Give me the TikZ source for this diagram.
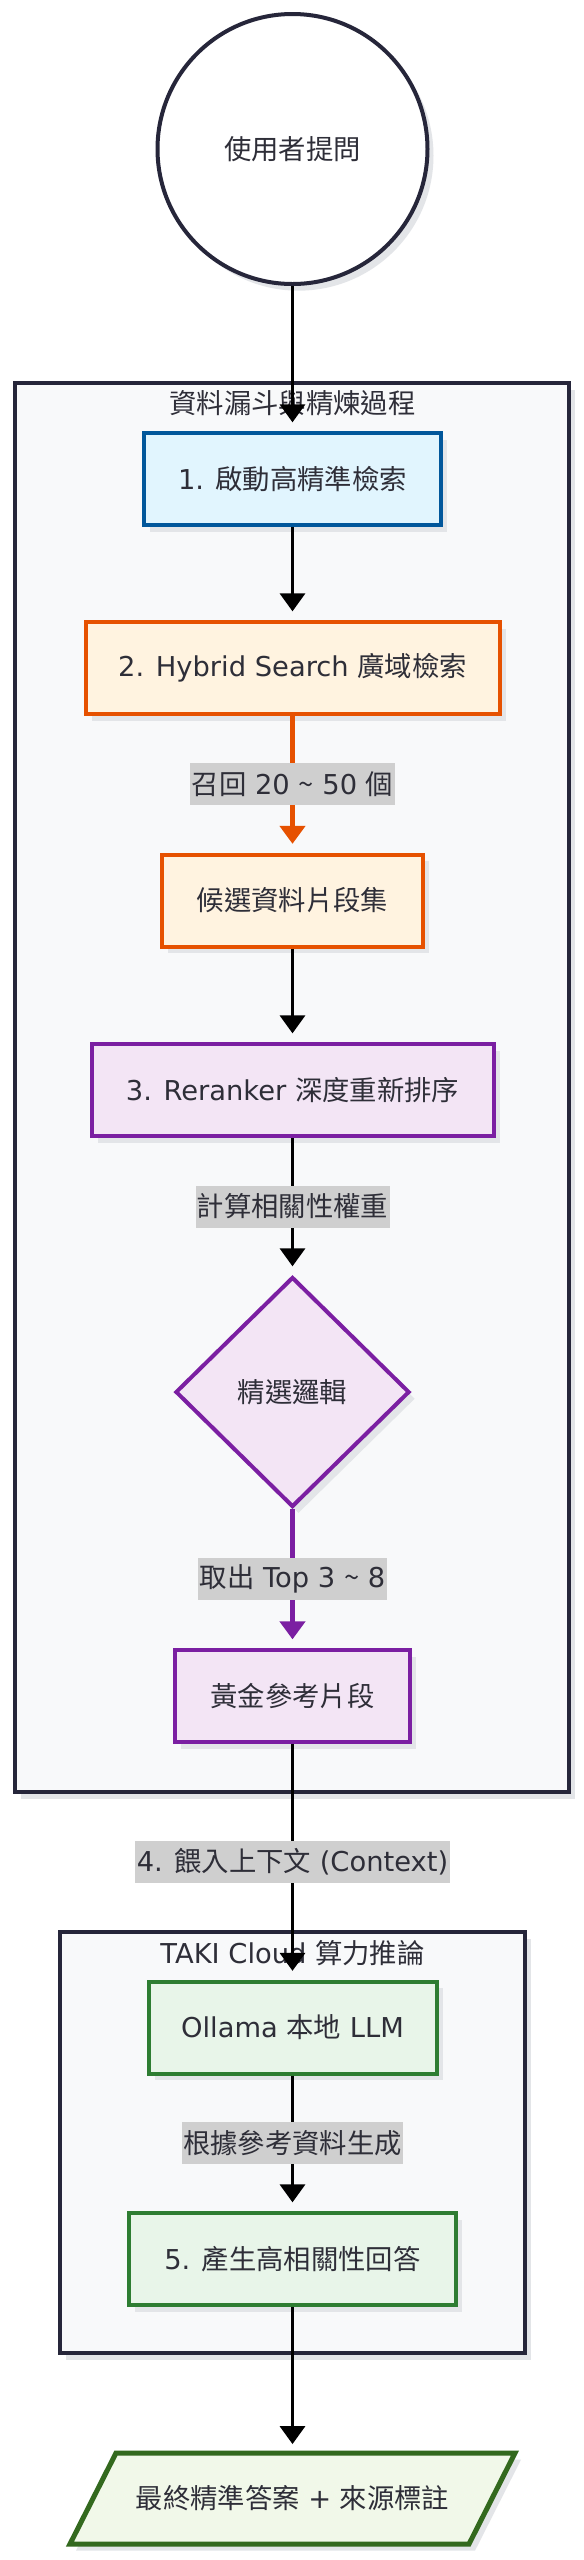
\documentclass[tikz,border=0pt]{standalone}
\usepackage{fontspec}
\setmainfont{DejaVu Sans}
\newfontfamily\cjk{Noto Sans CJK TC}
\usetikzlibrary{shapes.geometric,arrows.meta,shadows}
\definecolor{txt}{HTML}{2E2E38}
\definecolor{navy}{HTML}{26263A}
\definecolor{clusterfill}{HTML}{F8F9FA}
\definecolor{blueline}{HTML}{01579B}
\definecolor{bluefill}{HTML}{E1F5FE}
\definecolor{orangeline}{HTML}{E65100}
\definecolor{orangefill}{HTML}{FFF3E0}
\definecolor{purpleline}{HTML}{7B1FA2}
\definecolor{purplefill}{HTML}{F3E5F5}
\definecolor{greenline}{HTML}{2E7D32}
\definecolor{greenfill}{HTML}{E8F5E9}
\definecolor{outline}{HTML}{33691E}
\definecolor{outfill}{HTML}{F1F8E9}
\definecolor{lblfill}{HTML}{CFCFCF}
\definecolor{shadowgray}{HTML}{E3E5E8}
\begin{document}
\begin{tikzpicture}[x=0.75pt,y=-0.75pt,
  every node/.style={font=\fontsize{20.5}{24}\selectfont, text=txt},
  dshadow/.style={drop shadow={shadow xshift=4.5pt,shadow yshift=-5pt,fill=shadowgray,opacity=1}},
  cluster/.style={rectangle, draw=navy, fill=clusterfill, line width=2.6pt, inner sep=0pt, dshadow},
  box/.style={rectangle, line width=3pt, inner sep=0pt, minimum height=69pt, dshadow},
  bluebox/.style={box, draw=blueline, fill=bluefill},
  orangebox/.style={box, draw=orangeline, fill=orangefill},
  purplebox/.style={box, draw=purpleline, fill=purplefill},
  greenbox/.style={box, draw=greenline, fill=greenfill},
  link/.style={draw=black, line width=2.6pt, -{Triangle[length=13.5pt,width=18.75pt]}, shorten >=6.5pt},
  boldlink/.style={link, line width=3.75pt},
  elabel/.style={fill=lblfill, inner xsep=1pt, inner ysep=0pt, minimum height=31.5pt}
]
\fill[white] (0,0) rectangle (584,2560);
\useasboundingbox (0,0) rectangle (584,2560);

% clusters
\node[cluster, minimum width=415.5pt, minimum height=1056.75pt] (c1) at (292,1087.5) {};
\node (c1t) at (292.5,403) {\cjk 資料漏斗與精煉過程};
\node[cluster, minimum width=348.75pt, minimum height=315.75pt] (c2) at (292.5,2142.5) {};
\node (c2t) at (292.5,1953) {TAKI Cloud {\cjk 算力推論}};

% nodes
\node[circle, draw=navy, fill=white, line width=3pt, minimum size=202.5pt, inner sep=0pt, dshadow] (user) at (292.5,149) {\cjk 使用者提問};
\node[bluebox, minimum width=222.75pt] (b1) at (292.5,479) {1. {\cjk 啟動高精準檢索}};
\node[orangebox, minimum width=310.5pt] (b2) at (292.5,668) {2. Hybrid Search {\cjk 廣域檢索}};
\node[orangebox, minimum width=195.75pt] (b3) at (292.5,900.5) {\cjk 候選資料片段集};
\node[purplebox, minimum width=301.5pt] (b4) at (292.5,1090) {3. Reranker {\cjk 深度重新排序}};
\node[diamond, draw=purpleline, fill=purplefill, line width=3pt, minimum width=175.5pt, minimum height=172.5pt, inner sep=0pt, dshadow] (dia) at (292.5,1392) {\cjk 精選邏輯};
\node[purplebox, minimum width=176.25pt] (b5) at (292.5,1696) {\cjk 黃金參考片段};
\node[greenbox, minimum width=216pt] (b6) at (292.5,2027.5) {Ollama {\cjk 本地} LLM};
\node[greenbox, minimum width=245.25pt] (b7) at (292.5,2259) {5. {\cjk 產生高相關性回答}};

% output parallelogram
\filldraw[draw=outline, fill=outfill, line width=3.75pt, line join=miter, dshadow] (116,2453) -- (515,2453) -- (469,2544) -- (70,2544) -- cycle;
\node[minimum width=333.75pt, minimum height=68.25pt, inner sep=0pt] (out) at (292.5,2498.5) {{\cjk 最終精準答案} + {\cjk 來源標註}};

% edges
\draw[link] (user) -- (b1);
\draw[link] (b1) -- (b2);
\draw[boldlink, draw=orangeline] (b2) -- node[elabel]{{\cjk 召回} 20 {\cjk\textasciitilde} 50 {\cjk 個}} (b3);
\draw[link] (b3) -- (b4);
\draw[link] (b4) -- node[elabel]{\cjk 計算相關性權重} (dia);
\draw[boldlink, draw=purpleline] (dia) -- node[elabel]{{\cjk 取出} Top 3 {\cjk\textasciitilde} 8} (b5);
\draw[link] (b5) -- node[elabel]{4. {\cjk 餵入上下文} (Context)} (b6);
\draw[link] (b6) -- node[elabel]{\cjk 根據參考資料生成} (b7);
\draw[link] (b7) -- (out);
\end{tikzpicture}
\end{document}
